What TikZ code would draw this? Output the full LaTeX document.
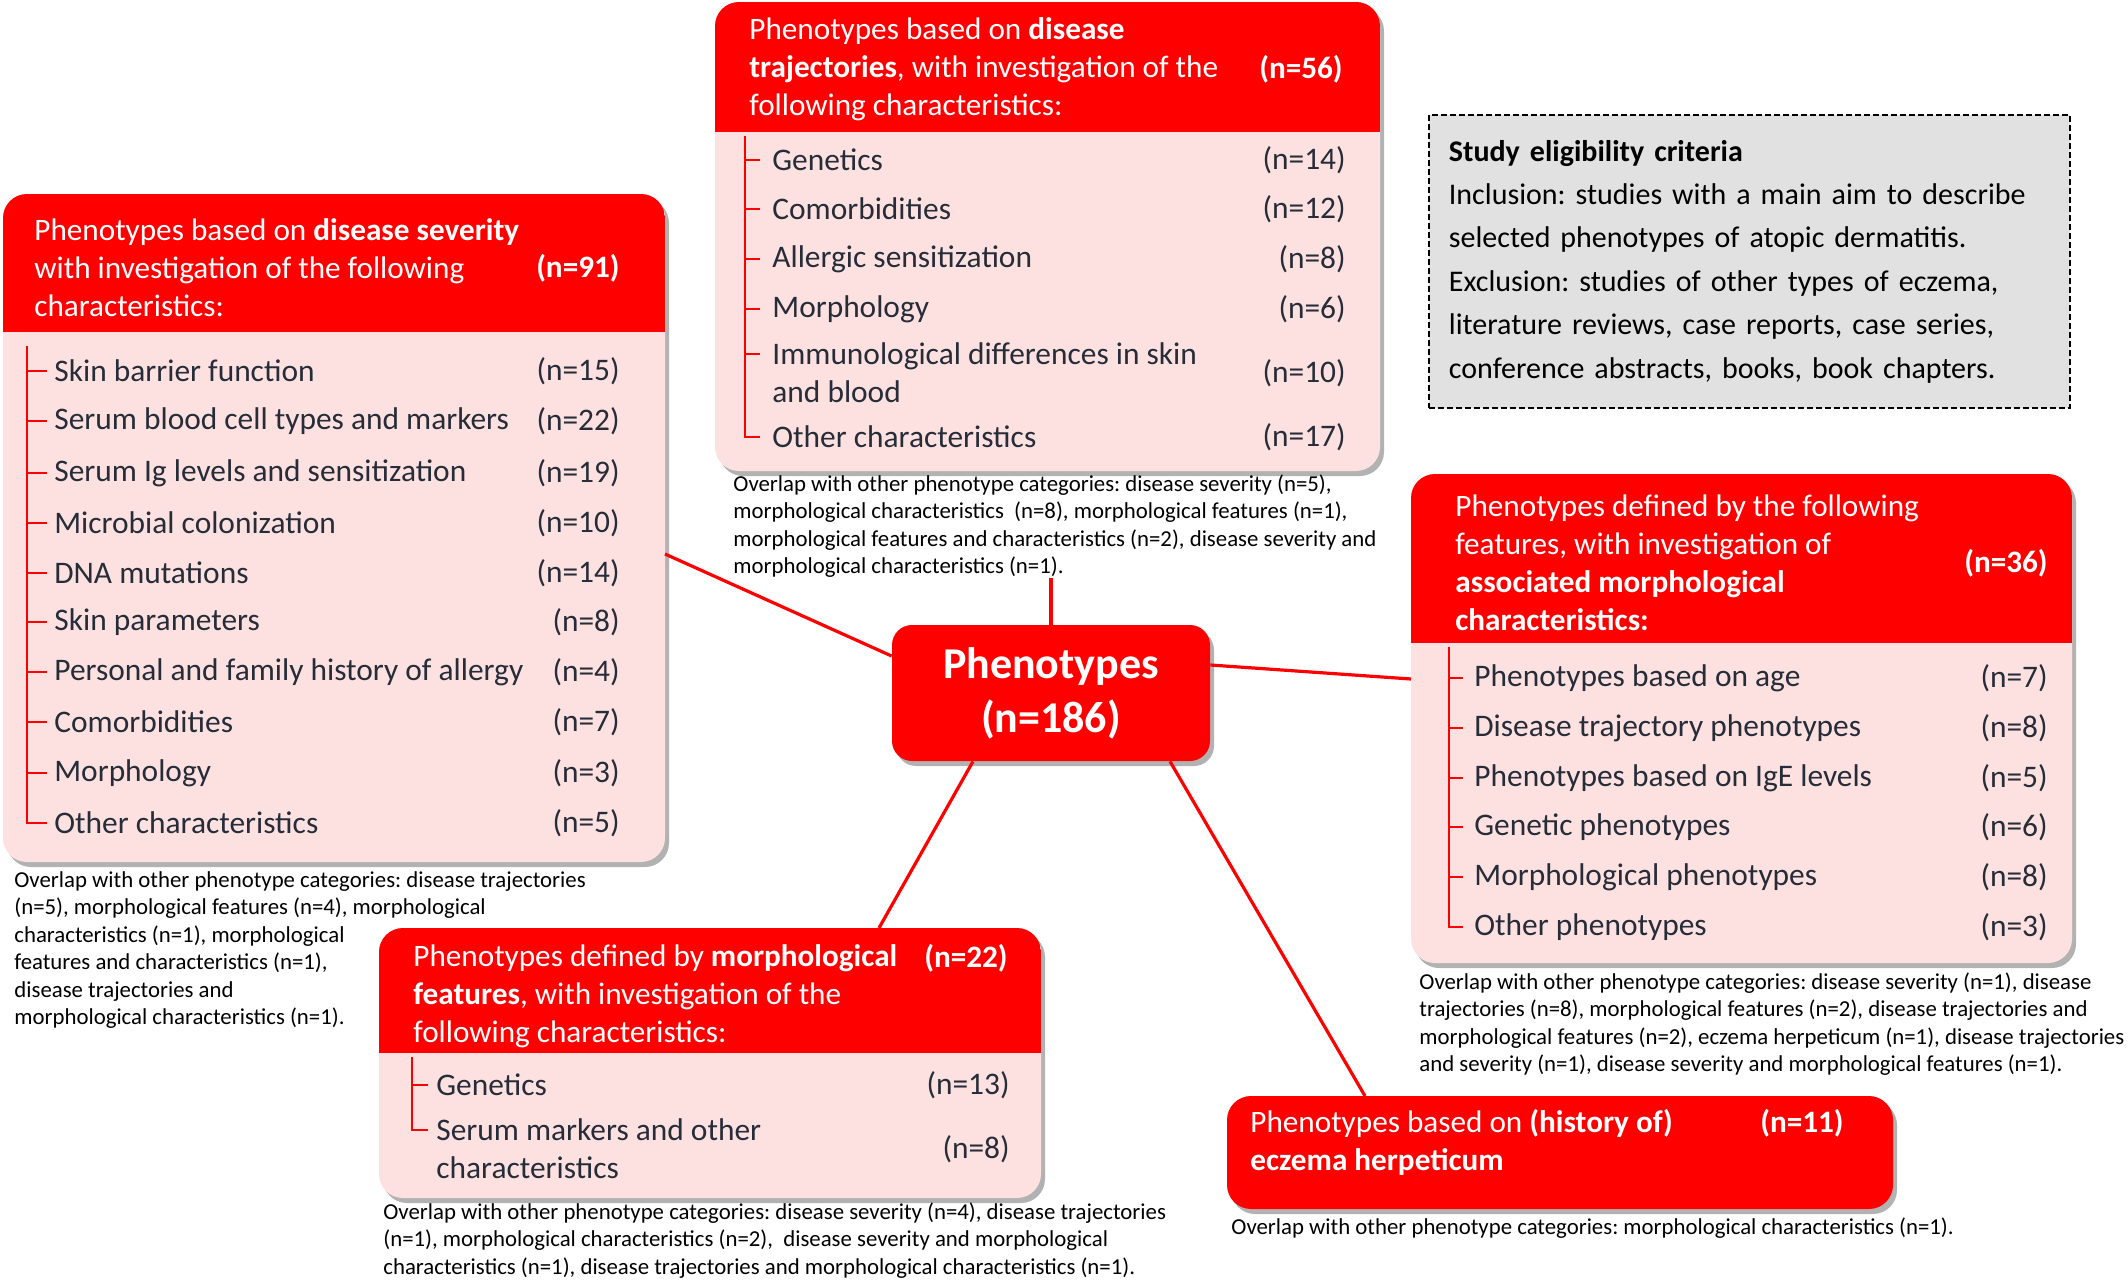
\documentclass[tikz,border=0pt]{standalone}
\usepackage{fontspec}
\setmainfont{Carlito}
\frenchspacing
\usetikzlibrary{shadows}

\definecolor{catred}{HTML}{FF0000}
\definecolor{catpink}{HTML}{FDE1E1}
\definecolor{itemtext}{HTML}{262C38}
\definecolor{critgray}{HTML}{E1E1E1}

\tikzset{
  catbody/.style={fill=catpink, rounded corners=12pt, inner sep=0pt, outer sep=0pt, anchor=north west,
    drop shadow={shadow xshift=2pt, shadow yshift=-2.5pt, opacity=0.3, fill=black}},
  head/.style={text=white, font=\fontsize{15.6}{19}\selectfont, align=left, anchor=west, inner sep=0pt},
  headn/.style={head, anchor=east, font=\fontsize{15.6}{19}\selectfont\bfseries},
  item/.style={text=itemtext, font=\fontsize{15.7}{19}\selectfont, align=left, anchor=west, inner sep=0pt},
  itemn/.style={item, anchor=east},
  note/.style={font=\fontsize{11.4}{13.75}\selectfont, align=left, anchor=north west, inner sep=0pt},
  tree/.style={draw=catred, line width=1pt},
  link/.style={draw=catred, line width=1.6pt},
  hub/.style={fill=catred, rounded corners=10pt, text=white, align=center,
    font=\fontsize{22}{27}\selectfont\bfseries, minimum width=159pt, minimum height=68pt,
    drop shadow={shadow xshift=2pt, shadow yshift=-2.5pt, opacity=0.3, fill=black}},
  critbox/.style={draw=black, dash pattern=on 3pt off 1.5pt, line width=0.9pt, fill=critgray,
    text width=300.5pt, inner xsep=10pt, minimum height=146.5pt, anchor=north west, align=left,
    font=\fontsize{15}{21.7}\selectfont},
}

\begin{document}
\begin{tikzpicture}[x=0.5pt, y=-0.5pt]
  \useasboundingbox (0,0) rectangle (2128,1279);

  %disease trajectories
  \node[catbody, minimum width=332.5pt, minimum height=234.5pt] (traj) at (715,2) {};
  \begin{scope}
    \clip[rounded corners=12pt] (traj.north west) rectangle (traj.south east);
    \fill[catred] (traj.north west) rectangle (1380,132);
  \end{scope}
  \node[head] (trajhead) at (749,69) {Phenotypes based on \textbf{disease}\\\textbf{trajectories}, with investigation of the\\following characteristics:};
  \node[headn] (trajtot) at (1343,69) {(n=56)};
  \draw[tree] (745,136) |- (760,437);
  \foreach \y in {160,209,259,309,354}
    \draw[tree] (745,\y) -- (760,\y);
  \foreach \lbl/\cnt/\y [count=\i] in {Genetics/(n=14)/160, Comorbidities/(n=12)/209,
      Allergic sensitization/(n=8)/259, Morphology/(n=6)/309,
      {Immunological differences in skin\\and blood}/(n=10)/373, Other characteristics/(n=17)/437}{
    \node[item] (traj\i) at (772,\y) {\lbl};
    \node[itemn] (trajn\i) at (1346,\y) {\cnt};
  }
  \node[note] (trajnote) at (733,474) {Overlap with other phenotype categories: disease severity (n=5),\\morphological characteristics~ (n=8), morphological features (n=1),\\morphological features and characteristics (n=2), disease severity and\\morphological characteristics (n=1).};

  %disease severity
  \node[catbody, minimum width=331pt, minimum height=334pt] (sev) at (3,194) {};
  \begin{scope}
    \clip[rounded corners=12pt] (sev.north west) rectangle (sev.south east);
    \fill[catred] (sev.north west) rectangle (665,332);
  \end{scope}
  \node[head] (sevhead) at (34,268) {Phenotypes based on \textbf{disease severity}\\with investigation of the following\\characteristics:};
  \node[headn] (sevtot) at (620,268) {(n=91)};
  \draw[tree] (27,346) |- (47,823);
  \foreach \y in {371,421,473,523,573,622,672,722,773}
    \draw[tree] (27,\y) -- (47,\y);
  \foreach \lbl/\cnt/\y [count=\i] in {Skin barrier function/(n=15)/371,
      Serum blood cell types and markers/(n=22)/421, Serum Ig levels and sensitization/(n=19)/473,
      Microbial colonization/(n=10)/523, DNA mutations/(n=14)/573, Skin parameters/(n=8)/622,
      Personal and family history of allergy/(n=4)/672, Comorbidities/(n=7)/722,
      Morphology/(n=3)/773, Other characteristics/(n=5)/823}{
    \node[item] (sev\i) at (54,\y) {\lbl};
    \node[itemn] (sevn\i) at (620,\y) {\cnt};
  }
  \node[note] (sevnote) at (14,871) {Overlap with other phenotype categories: disease trajectories\\(n=5), morphological features (n=4), morphological\\characteristics (n=1), morphological\\features and characteristics (n=1),\\disease trajectories and\\morphological characteristics (n=1).};

  %morphological characteristics
  \node[catbody, minimum width=330.5pt, minimum height=244.5pt] (morphc) at (1411,474) {};
  \begin{scope}
    \clip[rounded corners=12pt] (morphc.north west) rectangle (morphc.south east);
    \fill[catred] (morphc.north west) rectangle (2072,643);
  \end{scope}
  \node[head] (morphchead) at (1455,563) {Phenotypes defined by the following\\features, with investigation of\\\textbf{associated morphological}\\\textbf{characteristics:}};
  \node[headn] (morphctot) at (2048,563) {(n=36)};
  \draw[tree] (1449,647) |- (1463,927);
  \foreach \y in {678,728,778,827,877}
    \draw[tree] (1449,\y) -- (1463,\y);
  \foreach \lbl/\cnt/\y [count=\i] in {Phenotypes based on age/(n=7)/678,
      Disease trajectory phenotypes/(n=8)/728, Phenotypes based on IgE levels/(n=5)/778,
      Genetic phenotypes/(n=6)/827, Morphological phenotypes/(n=8)/877, Other phenotypes/(n=3)/927}{
    \node[item] (morphc\i) at (1474,\y) {\lbl};
    \node[itemn] (morphcn\i) at (2048,\y) {\cnt};
  }
  \node[note] (morphcnote) at (1419,972) {Overlap with other phenotype categories: disease severity (n=1), disease\\trajectories (n=8), morphological features (n=2), disease trajectories and\\morphological features (n=2), eczema herpeticum (n=1), disease trajectories\\and severity (n=1), disease severity and morphological features (n=1).};

  %morphological features
  \node[catbody, minimum width=331pt, minimum height=135pt] (morphf) at (379,928) {};
  \begin{scope}
    \clip[rounded corners=12pt] (morphf.north west) rectangle (morphf.south east);
    \fill[catred] (morphf.north west) rectangle (1041,1053);
  \end{scope}
  \node[head] (morphfhead) at (413,996) {Phenotypes defined by \textbf{morphological}\\\textbf{features}, with investigation of the\\following characteristics:};
  \node[headn] (morphftot) at (1008,958) {(n=22)};
  \draw[tree] (412,1057) |- (428,1130);
  \draw[tree] (412,1085) -- (428,1085);
  \node[item] (morphf1) at (436,1085) {Genetics};
  \node[itemn] (morphfn1) at (1010,1085) {(n=13)};
  \node[item] (morphf2) at (436,1149) {Serum markers and other\\characteristics};
  \node[itemn] (morphfn2) at (1010,1149) {(n=8)};
  \node[note] (morphfnote) at (383,1202) {Overlap with other phenotype categories: disease severity (n=4), disease trajectories\\(n=1), morphological characteristics (n=2),~ disease severity and morphological\\characteristics (n=1), disease trajectories and morphological characteristics (n=1).};

  %eczema herpeticum
  \node[catbody, fill=catred, minimum width=333pt, minimum height=56.5pt] (ecz) at (1227,1096) {};
  \node[head] (eczhead) at (1250,1142) {Phenotypes based on \textbf{(history of)}\\\textbf{eczema herpeticum}};
  \node[headn] (ecztot) at (1844,1123) {(n=11)};
  \node[note] (ecznote) at (1231,1217) {Overlap with other phenotype categories: morphological characteristics (n=1).};

  %eligibility criteria
  \node[critbox] (crit) at (1428,114) {\textbf{Study eligibility criteria}\\Inclusion: studies with a main aim to describe\\selected phenotypes of atopic dermatitis.\\Exclusion: studies of other types of eczema,\\literature reviews, case reports, case series,\\conference abstracts, books, book chapters.};

  %centre
  \node[hub] (hub) at (1051,693) {Phenotypes\\(n=186)};

  %links
  \draw[link] ([yshift=-13pt]sev.east) -- ([yshift=18.5pt]hub.west);
  \draw[link] ([yshift=14pt]hub.east) -- ([yshift=19.75pt]morphc.west);
  \draw[link] (hub.north) -- (hub.north |- trajnote.south);
  \draw[link] ([xshift=-39pt]hub.south) -- ([xshift=84.5pt]morphf.north);
  \draw[link] ([xshift=59.5pt]hub.south) -- ([xshift=-97.5pt]ecz.north);
\end{tikzpicture}
\end{document}
